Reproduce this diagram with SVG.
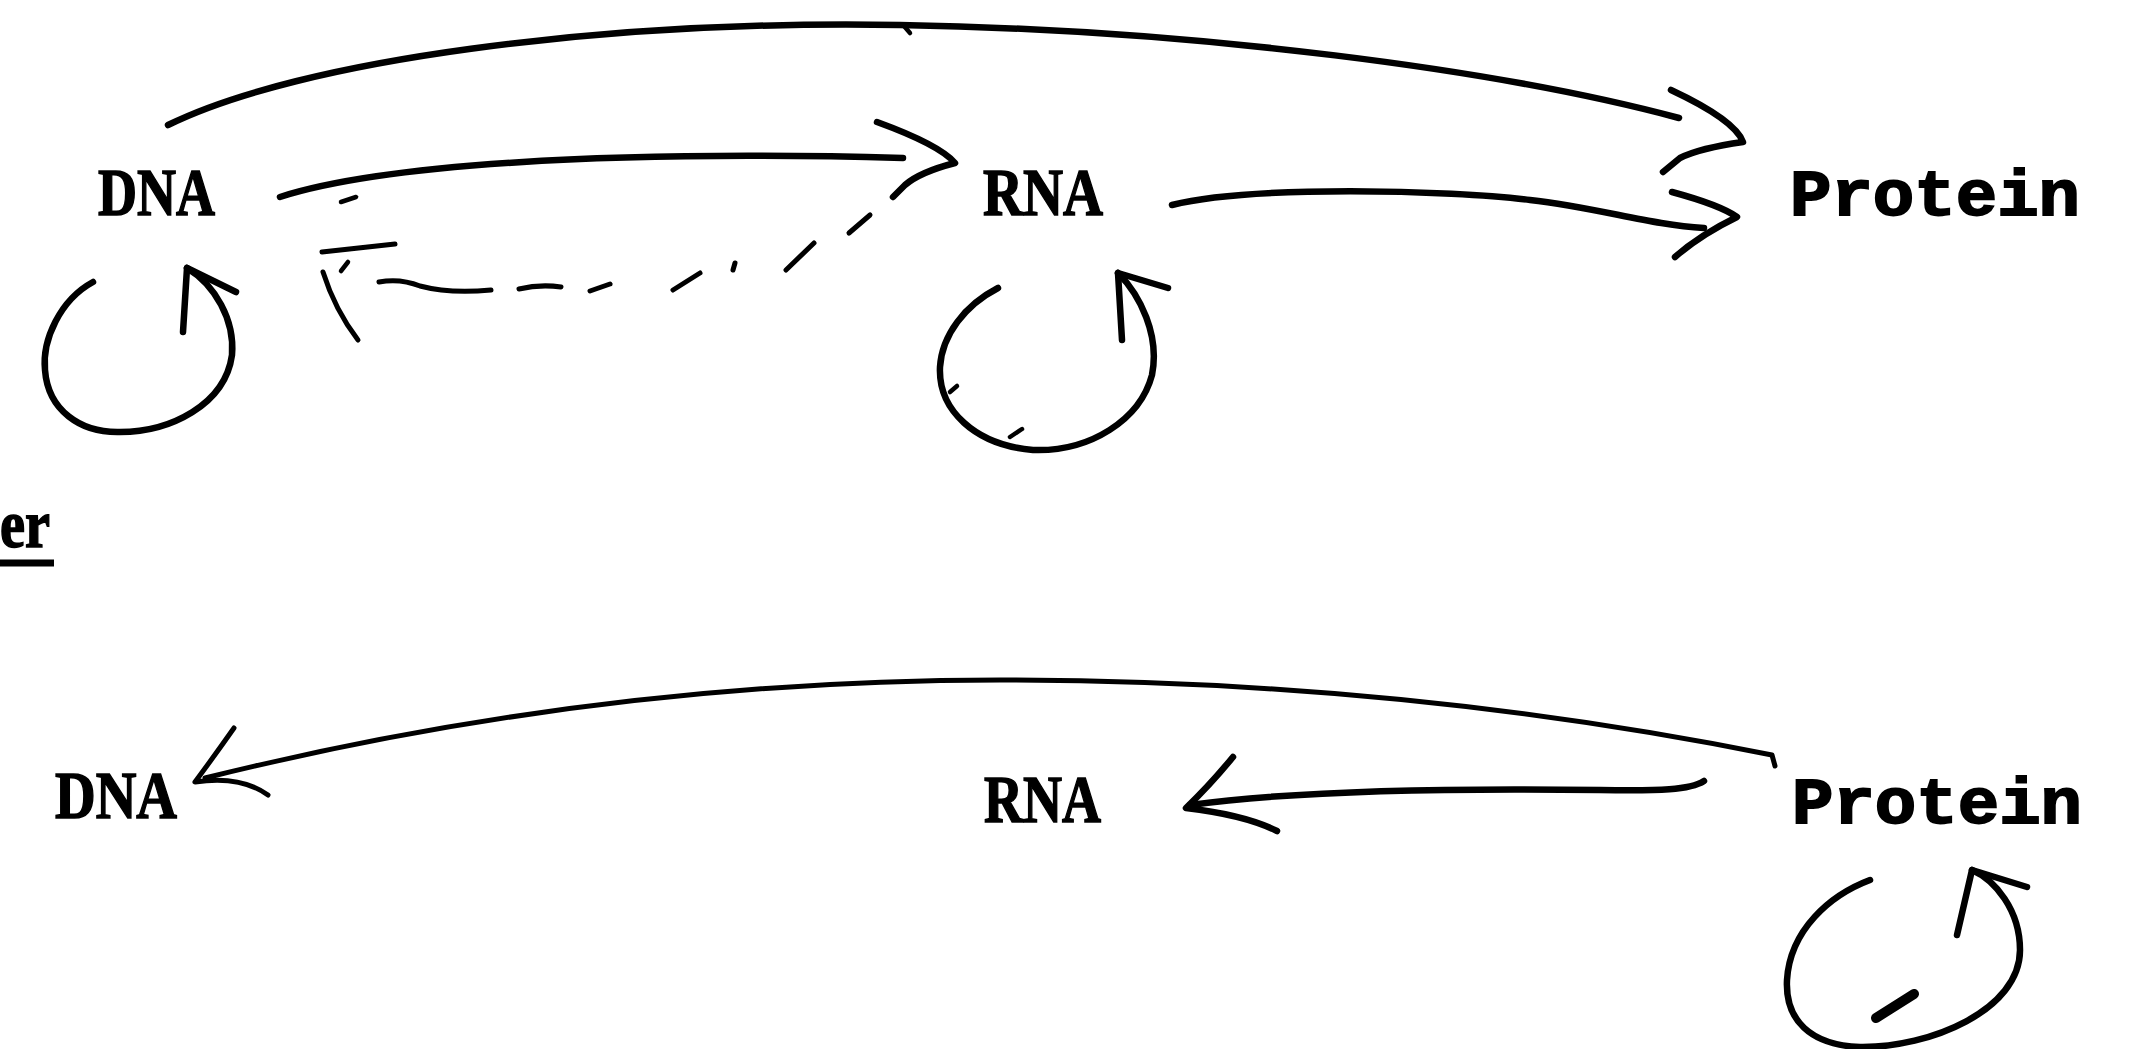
<svg xmlns="http://www.w3.org/2000/svg" width="2132" height="1049" viewBox="0 0 2132 1049">
<style>
.bg{fill:#ffffff}
.lbl{font-family:"Liberation Serif","DejaVu Serif",serif;font-weight:bold;font-size:68px;fill:#000;stroke:#000;stroke-width:1.6}
.mono{font-family:"Liberation Mono","DejaVu Sans Mono",monospace;font-weight:bold;font-size:64px;fill:#000;stroke:#000;stroke-width:1.8}
.ln{fill:none;stroke:#000;stroke-width:6.5;stroke-linecap:round;stroke-linejoin:round}
.thin{fill:none;stroke:#000;stroke-width:5;stroke-linecap:round;stroke-linejoin:round}
.mark{fill:none;stroke:#000;stroke-width:4.5;stroke-linecap:round}
</style>
<rect class="bg" x="0" y="0" width="2132" height="1049"/>

<g id="heading-fragment">
<text class="lbl" x="0" y="547" font-size="72" textLength="50" lengthAdjust="spacingAndGlyphs">er</text>
<line x1="0" y1="563" x2="54" y2="563" stroke="#000" stroke-width="7"/>
</g>

<g id="node-dna-top"><text class="lbl" x="98" y="215" textLength="117" lengthAdjust="spacingAndGlyphs">DNA</text></g>
<g id="node-rna-top"><text class="lbl" x="983" y="215" textLength="120" lengthAdjust="spacingAndGlyphs">RNA</text></g>
<g id="node-protein-top"><text class="mono" x="1790" y="215" textLength="290" lengthAdjust="spacingAndGlyphs">Protein</text></g>

<g id="node-dna-bottom"><text class="lbl" x="55" y="818" textLength="122" lengthAdjust="spacingAndGlyphs">DNA</text></g>
<g id="node-rna-bottom"><text class="lbl" x="984" y="822" textLength="117" lengthAdjust="spacingAndGlyphs">RNA</text></g>
<g id="node-protein-bottom"><text class="mono" x="1792" y="823" textLength="290" lengthAdjust="spacingAndGlyphs">Protein</text></g>

<g id="connectors">
<g id="edge-dna-protein">
<path class="ln" d="M168,125 C300,60 600,20 900,25 C1200,30 1500,70 1679,118"/>
<path class="mark" d="M904,26 L910,33"/>
<path class="ln" d="M1671,90 Q1735,120 1743,142 Q1700,148 1680,158 L1663,172"/>
</g>
<g id="edge-dna-rna">
<path class="ln" d="M280,197 C380,165 600,150 903,158"/>
<path class="ln" d="M877,122 Q940,145 955,163 Q920,172 905,185 L893,197"/>
<path class="mark" d="M341,202 L356,197"/>
</g>
<g id="edge-rna-protein">
<path class="ln" d="M1172,205 C1250,185 1450,190 1530,200 C1600,208 1650,225 1704,228"/>
<path class="ln" d="M1672,192 Q1720,205 1737,217 Q1700,235 1675,257"/>
</g>
<g id="edge-rna-dna-dashed">
<path class="thin" d="M379,282 Q400,278 420,286 Q450,294 491,290"/>
<path class="thin" d="M519,289 Q540,284 561,287"/>
<path class="thin" d="M590,291 L610,284"/>
<path class="thin" d="M673,290 L700,273"/>
<path class="thin" d="M733,270 L735,263"/>
<path class="thin" d="M786,270 L814,243"/>
<path class="thin" d="M849,233 L870,215"/>
<path class="thin" d="M395,244 L322,252"/>
<path class="thin" d="M323,272 Q335,310 358,340"/>
<path class="mark" d="M341,271 L348,262"/>
</g>
<g id="edge-dna-self">
<path class="ln" d="M93,282 C60,300 42,340 45,370 C48,410 80,433 120,432 C170,432 225,405 232,355 C235,320 215,285 187,268"/>
<path class="ln" d="M187,268 L183,332 M187,268 L236,292"/>
</g>
<g id="edge-rna-self">
<path class="ln" d="M998,288 C965,305 942,335 940,367 C938,410 975,445 1033,450 C1090,452 1140,420 1152,375 C1160,335 1140,295 1118,273"/>
<path class="ln" d="M1118,273 L1122,340 M1118,273 L1168,288"/>
<path class="mark" d="M950,392 L957,386"/>
<path class="mark" d="M1010,437 L1022,429"/>
</g>
<g id="edge-protein-dna">
<path class="thin" d="M1775,766 L1772,755 Q1400,680 1000,680 Q600,680 205,778"/>
<path class="thin" d="M234,728 Q215,755 195,782 Q240,775 268,795"/>
</g>
<g id="edge-protein-rna">
<path class="ln" d="M1704,781 C1690,790 1660,791 1600,790 C1450,788 1300,790 1190,805"/>
<path class="ln" d="M1233,757 Q1210,785 1186,808 Q1245,815 1277,831"/>
</g>
<g id="edge-protein-self">
<path class="ln" d="M1870,880 C1830,895 1790,930 1787,980 C1785,1020 1810,1045 1860,1047 C1930,1048 2020,1010 2020,950 C2020,910 1995,880 1972,870"/>
<path class="ln" d="M1972,870 L1957,935 M1972,870 L2027,887"/>
<path fill="none" stroke="#000" stroke-width="10" stroke-linecap="round" d="M1876,1018 L1914,994"/>
</g>
</g>
</svg>
